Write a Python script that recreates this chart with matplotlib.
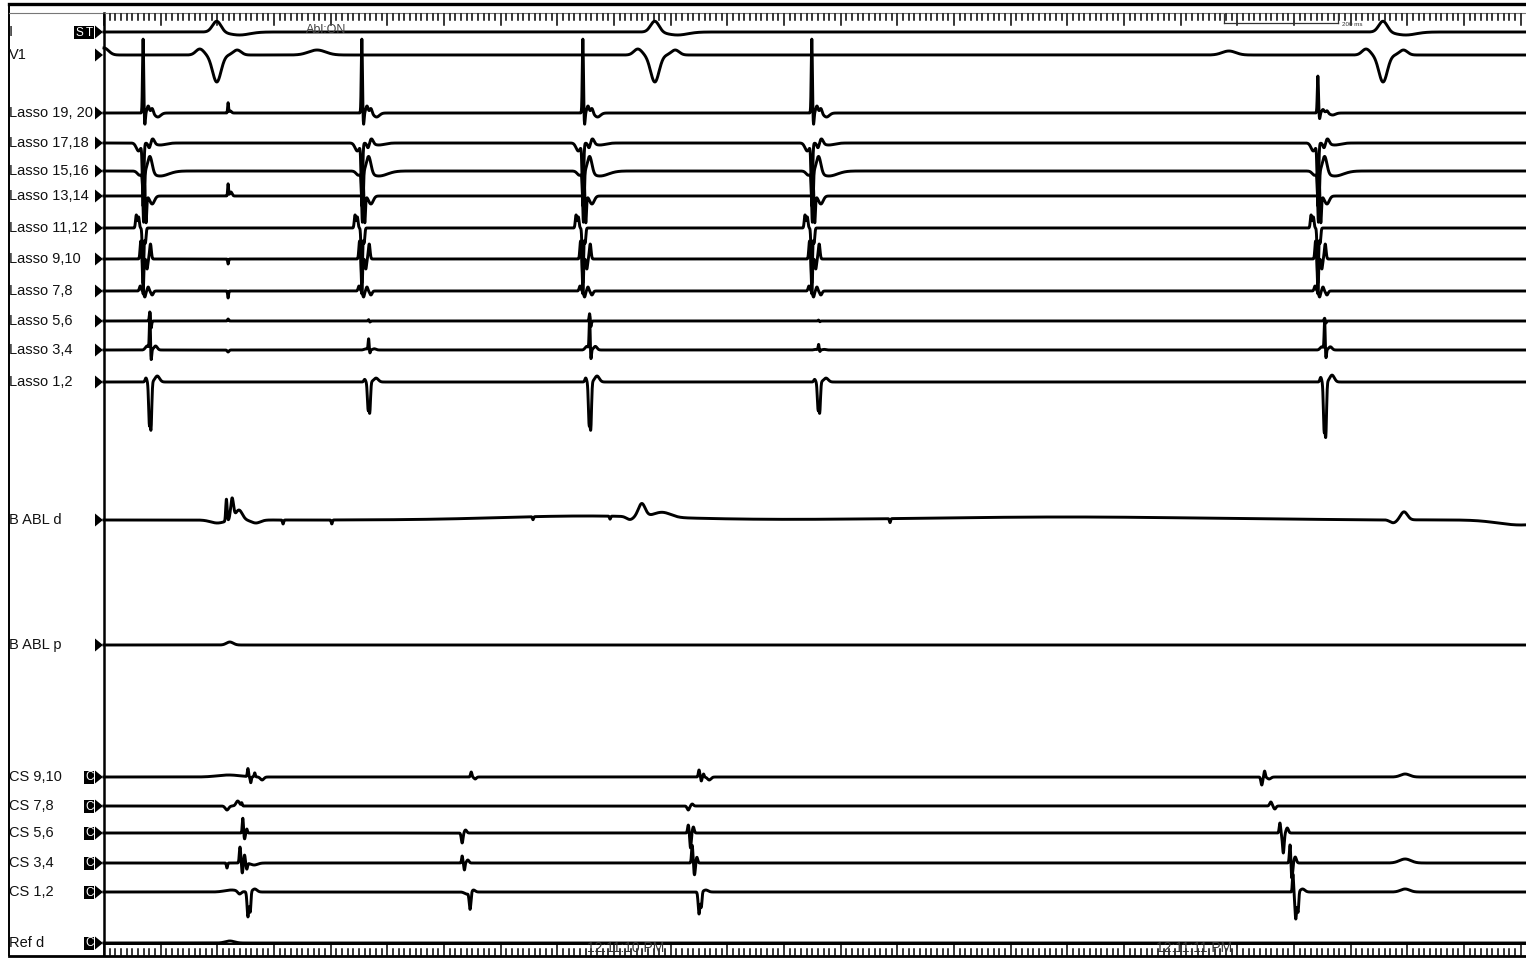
import numpy as np
import matplotlib.pyplot as plt

# electrogram sheet: 20 channels, ~2.5 s sweep
W, H = 1526, 964
PX_PER_MS = 0.5667      # paper speed read from the 100 ms ruler
X0 = 104                # pixel column of t = 0

CHANNELS = ["I", "V1", "Lasso 19, 20", "Lasso 17,18", "Lasso 15,16", "Lasso 13,14",
            "Lasso 11,12", "Lasso 9,10", "Lasso 7,8", "Lasso 5,6", "Lasso 3,4",
            "Lasso 1,2", "B ABL d", "B ABL p", "CS 9,10", "CS 7,8", "CS 5,6",
            "CS 3,4", "CS 1,2", "Ref d"]
BASELINES = [32, 55, 113, 143, 171, 196, 228, 259, 291, 321, 350, 382,
             520, 645, 777, 806, 833, 863, 892, 943]
BADGES = {"I": "ST", "CS 9,10": "C", "CS 7,8": "C", "CS 5,6": "C",
          "CS 3,4": "C", "CS 1,2": "C", "Ref d": "C"}

# event times (ms)
QRS = [199, 972, 2257]
PV_BEATS = [69, 455, 845, 1249, 2142]
FAR_FIELD = 219

# deflections: (offset ms, amplitude px (up +), width ms)
LEAD_I_QRS = [(0, 11, 7.5), (40, -3, 18)]
V1_QRS = [(-30, 6, 7), (0, -27, 7.5), (36, 5, 7)]
V1_EXTRA = [(0, 7, 8), (376, 5, 15), (1985, 4, 12)]

LASSO_BEAT = {
    "Lasso 19, 20": [(0, 74, 1.0), (3, -12, 1.0), (9, 7, 2), (16, 5, 2), (26, -4, 5)],
    "Lasso 17,18": [(-8, -8, 4), (0, -62, 1.3), (11, -5, 2), (17, 5, 3), (30, -2, 10)],
    "Lasso 15,16": [(-6, -4, 4), (1, -50, 1.3), (12, 17, 4), (30, -5, 15)],
    "Lasso 13,14": [(3, 16, 1.2), (5, -30, 1.2), (16, -8, 4)],
    "Lasso 11,12": [(-12, 13, 1.3), (-8, 11, 1.3), (0, -55, 1.2), (4, -15, 1.2)],
    "Lasso 9,10": [(-4, 18, 1.3), (0, -35, 1.0), (7, -10, 1.2), (13, 15, 1.5)],
    "Lasso 7,8": [(-5, 5, 1.5), (3, -6, 1.5), (9, 4, 1.5), (16, -4, 2)],
    "Lasso 5,6": [(12, 10, 1.0), (14, -8, 1.0)],
    "Lasso 3,4": [(7, 4, 3), (12, 38, 0.9), (14, -12, 1.0), (22, 4, 3)],
    "Lasso 1,2": [(5, 4, 1.5), (11, -40, 1.3), (14, -45, 1.3), (25, 6, 4)],
}
LASSO_SCALE = {
    "Lasso 19, 20": [1, 1, 1, 1, 0.5],
    "Lasso 5,6": [1, 0.15, 0.8, 0.1, 0.3],
    "Lasso 3,4": [1, 0.3, 0.9, 0.15, 0.8],
    "Lasso 1,2": [1, 0.65, 1, 0.65, 1.15],
}
LASSO_FAR = {
    "Lasso 19, 20": [(0, 10, 0.8), (4, 2, 2)],
    "Lasso 13,14": [(0, 12, 0.8), (5, 4, 2)],
    "Lasso 9,10": [(0, -5, 0.8)],
    "Lasso 7,8": [(0, -7, 0.8)],
    "Lasso 5,6": [(0, 2, 1)],
    "Lasso 3,4": [(0, -2, 1.5)],
}

ABL_D = [(200, -3, 12), (216, 22, 1.2), (226, 21, 2.5), (238, 10, 6), (268, -3, 8),
         (316, -4, 1), (402, -4, 1), (757, -3, 1), (893, -3, 1), (1387, -4, 1),
         (850, 4, 150), (928, -3, 6), (949, 13, 6), (985, 5, 15), (1700, 3, 250),
         (2275, -3, 6), (2294, 8, 6), (2500, -5, 40)]
ABL_P = [(222, 3, 6)]
CS_910 = [(220, 2, 20), (254, 8, 1), (259, -6, 1), (266, 4, 1), (279, -3, 3),
          (648, 5, 1.2), (655, -2, 2), (1050, 7, 1.2), (1054, -4, 1), (1058, 3, 1),
          (1068, -3, 3), (2043, -8, 1.5), (2048, 6, 1.2), (2056, -2, 3), (2296, 3, 8)]
CS_78 = [(217, -4, 3), (236, 5, 3), (243, 3, 1), (1031, -4, 2), (1038, 2, 2),
         (2059, 4, 2), (2066, -3, 2)]
CS_56 = [(245, 15, 1), (248, -6, 1.2), (252, 4, 1), (632, -10, 1.5), (638, 3, 2),
         (1031, 8, 1.2), (1035, -15, 1.2), (1040, 6, 1.5),
         (2075, 10, 1.2), (2081, -20, 1.5), (2088, 5, 2)]
CS_34 = [(217, -5, 1), (240, 16, 1.2), (244, -10, 1.2), (248, 8, 1.2), (252, -6, 1.2),
         (265, -2, 6), (632, 7, 1), (636, -7, 1), (642, 3, 2),
         (1038, 18, 1.2), (1042, -12, 1.5), (1046, 6, 1.5),
         (2093, 20, 1.2), (2096, -16, 1.5), (2102, 6, 2), (2296, 4, 10)]
CS_12 = [(225, 2, 12), (239, -3, 3), (254, -25, 1.5), (258, -20, 1.2), (266, 3, 4),
         (640, -2, 4), (646, -17, 1.5), (652, 2, 3),
         (1050, -22, 1.5), (1054, -15, 1.2), (1062, 2, 4),
         (2098, 18, 1), (2103, -27, 1.5), (2107, -20, 1.2), (2115, 3, 4), (2296, 3, 8)]
REF_D = [(222, 2, 8)]

TIME_LABELS = [(921, "12:11:10 PM"), (1923, "12:11:11 PM")]


def px2ms(px):
    return (px - X0) / PX_PER_MS


t = np.arange(0, px2ms(W), 0.25)


def trace(waves):
    y = np.zeros_like(t)
    for t0, a, w in waves:
        y += a * np.exp(-0.5 * ((t - t0) / w) ** 2)
    return y


waves = {name: [] for name in CHANNELS}
for q in QRS:
    waves["I"] += [(q + dt, a, w) for dt, a, w in LEAD_I_QRS]
    waves["V1"] += [(q + dt, a, w) for dt, a, w in V1_QRS]
waves["V1"] += V1_EXTRA
for name, tpl in LASSO_BEAT.items():
    sc = LASSO_SCALE.get(name, [1] * len(PV_BEATS))
    for b, s in zip(PV_BEATS, sc):
        waves[name] += [(b + dt, a * s, w) for dt, a, w in tpl]
    waves[name] += [(FAR_FIELD + dt, a, w) for dt, a, w in LASSO_FAR.get(name, [])]
waves["B ABL d"] = ABL_D
waves["B ABL p"] = ABL_P
waves["CS 9,10"] = CS_910
waves["CS 7,8"] = CS_78
waves["CS 5,6"] = CS_56
waves["CS 3,4"] = CS_34
waves["CS 1,2"] = CS_12
waves["Ref d"] = REF_D

plt.rcParams['font.family'] = ['Liberation Sans', 'DejaVu Sans']
fig = plt.figure(figsize=(W / 100, H / 100), dpi=100)
ax = fig.add_axes([0, 0, 1, 1])
ax.set_xlim(px2ms(0), px2ms(W))
ax.set_ylim(H, 0)
ax.axis('off')

for name, base in zip(CHANNELS, BASELINES):
    ax.plot(t, base - trace(waves[name]), color='black', lw=2.1, solid_joinstyle='round')
    ax.text(px2ms(9), base, name, ha='left', va='center', fontsize=10.5, color='#111')
    # channel marker triangle
    ax.fill([px2ms(95), px2ms(103), px2ms(95)], [base - 6.5, base, base + 6.5], color='black', lw=0)
    badge = BADGES.get(name)
    if badge:
        for i, ch in enumerate(badge[::-1]):
            xr = 94 - i * 10
            ax.fill([px2ms(xr - 9.5), px2ms(xr), px2ms(xr), px2ms(xr - 9.5)],
                    [base - 6.5, base - 6.5, base + 6.5, base + 6.5], color='black', lw=0)
            ax.text(px2ms(xr - 4.7), base + 0.5, ch, ha='center', va='center',
                    fontsize=8.5, color='white')

# frame
ax.plot([px2ms(9), px2ms(W)], [4, 4], color='black', lw=2.4)
ax.plot([px2ms(9), px2ms(9)], [4, 955], color='black', lw=1.4)
ax.plot([px2ms(104), px2ms(104)], [13, 955], color='black', lw=1.8)
ax.plot([px2ms(9), px2ms(W)], [13, 13], color='#777', lw=0.8)
ax.plot([px2ms(9), px2ms(W)], [955.5, 955.5], color='black', lw=2.0)
ax.plot([0, px2ms(W)], [943.5, 943.5], color='black', lw=1.4)

# time rulers
for ms in range(0, int(px2ms(W)) + 1, 10):
    major = ms % 100 == 0
    ax.plot([ms, ms], [14, 25 if major else 19.5], color='black', lw=1.1)
    ax.plot([ms, ms], [943 if major else 949, 955], color='black', lw=1.1)

# 200 ms calibration bar
bx0, bx1 = 1977, 2177
ax.plot([bx0, bx1], [23, 23], color='#333', lw=0.9)
ax.plot([bx0, bx0], [14, 23], color='#333', lw=0.9)
ax.plot([bx1, bx1], [14, 23], color='#333', lw=0.9)
ax.text(bx1 + 8, 24, "200 ms", fontsize=4.5, ha='left', va='center', color='#333')

ax.text(px2ms(306), 30, "Abl:ON", fontsize=9, ha='left', va='center', color='#444')
for ms, lab in TIME_LABELS:
    ax.text(ms, 948, lab, fontsize=10, ha='center', va='center', color='#333')

fig.savefig("out.png", dpi=100)
